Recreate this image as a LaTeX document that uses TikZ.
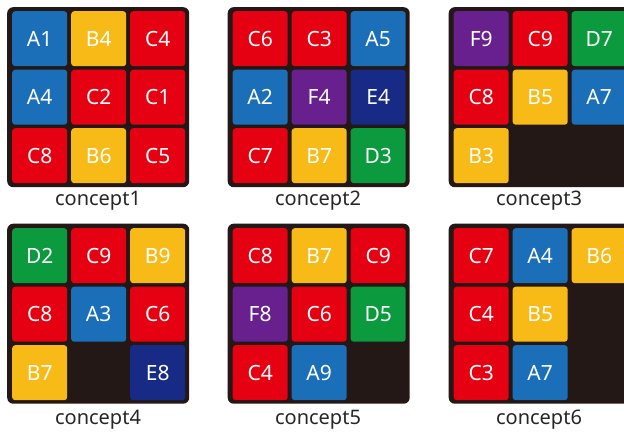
\documentclass[tikz,border=0pt]{standalone}
\usepackage{fontspec}
\setmainfont{Noto Sans}
\definecolor{cblue}{HTML}{1A6FB8}
\definecolor{cyel}{HTML}{F7BA16}
\definecolor{cred}{HTML}{E50012}
\definecolor{cgreen}{HTML}{0B9A3D}
\definecolor{cpurp}{HTML}{67208E}
\definecolor{cnavy}{HTML}{172A86}
\definecolor{pback}{HTML}{231815}
\newcommand\mkcell[7]{\node[cell, fill=#6] (#1) at ({#2+59*#4},{#3+58.5*#5}) {#7};}
\begin{document}
\begin{tikzpicture}[x=1pt,y=-1pt,
  cell/.style={anchor=north west, minimum size=55pt, inner sep=0pt, rounded corners=3pt, text=white, font=\fontsize{21}{21}\selectfont},
  panel/.style={fill=pback, draw=none, rounded corners=6pt, anchor=north west, minimum width=182pt, minimum height=180pt, inner sep=0pt},
  captxt/.style={font=\fontsize{20}{20}\selectfont, text=black!85, inner sep=0pt}]
\useasboundingbox (0,0) rectangle (624,438);
\clip (0,0) rectangle (624,438);
\fill[white] (0,0) rectangle (624,438);
% panels
\node[panel] (p1) at (7,7) {};
\node[panel] (p2) at (227.5,7) {};
\node[panel] (p3) at (448.5,7) {};
\node[panel] (p4) at (7,223.5) {};
\node[panel] (p5) at (227.5,223.5) {};
\node[panel] (p6) at (448.5,223.5) {};
% panel 1
\mkcell{a11}{12}{11}{0}{0}{cblue}{A1}
\mkcell{a12}{12}{11}{1}{0}{cyel}{B4}
\mkcell{a13}{12}{11}{2}{0}{cred}{C4}
\mkcell{a21}{12}{11}{0}{1}{cblue}{A4}
\mkcell{a22}{12}{11}{1}{1}{cred}{C2}
\mkcell{a23}{12}{11}{2}{1}{cred}{C1}
\mkcell{a31}{12}{11}{0}{2}{cred}{C8}
\mkcell{a32}{12}{11}{1}{2}{cyel}{B6}
\mkcell{a33}{12}{11}{2}{2}{cred}{C5}
% panel 2
\mkcell{b11}{232.5}{11}{0}{0}{cred}{C6}
\mkcell{b12}{232.5}{11}{1}{0}{cred}{C3}
\mkcell{b13}{232.5}{11}{2}{0}{cblue}{A5}
\mkcell{b21}{232.5}{11}{0}{1}{cblue}{A2}
\mkcell{b22}{232.5}{11}{1}{1}{cpurp}{F4}
\mkcell{b23}{232.5}{11}{2}{1}{cnavy}{E4}
\mkcell{b31}{232.5}{11}{0}{2}{cred}{C7}
\mkcell{b32}{232.5}{11}{1}{2}{cyel}{B7}
\mkcell{b33}{232.5}{11}{2}{2}{cgreen}{D3}
% panel 3
\mkcell{c11}{453.5}{11}{0}{0}{cpurp}{F9}
\mkcell{c12}{453.5}{11}{1}{0}{cred}{C9}
\mkcell{c13}{453.5}{11}{2}{0}{cgreen}{D7}
\mkcell{c21}{453.5}{11}{0}{1}{cred}{C8}
\mkcell{c22}{453.5}{11}{1}{1}{cyel}{B5}
\mkcell{c23}{453.5}{11}{2}{1}{cblue}{A7}
\mkcell{c31}{453.5}{11}{0}{2}{cyel}{B3}
% panel 4
\mkcell{d11}{12}{228}{0}{0}{cgreen}{D2}
\mkcell{d12}{12}{228}{1}{0}{cred}{C9}
\mkcell{d13}{12}{228}{2}{0}{cyel}{B9}
\mkcell{d21}{12}{228}{0}{1}{cred}{C8}
\mkcell{d22}{12}{228}{1}{1}{cblue}{A3}
\mkcell{d23}{12}{228}{2}{1}{cred}{C6}
\mkcell{d31}{12}{228}{0}{2}{cyel}{B7}
\mkcell{d33}{12}{228}{2}{2}{cnavy}{E8}
% panel 5
\mkcell{e11}{232.5}{228}{0}{0}{cred}{C8}
\mkcell{e12}{232.5}{228}{1}{0}{cyel}{B7}
\mkcell{e13}{232.5}{228}{2}{0}{cred}{C9}
\mkcell{e21}{232.5}{228}{0}{1}{cpurp}{F8}
\mkcell{e22}{232.5}{228}{1}{1}{cred}{C6}
\mkcell{e23}{232.5}{228}{2}{1}{cgreen}{D5}
\mkcell{e31}{232.5}{228}{0}{2}{cred}{C4}
\mkcell{e32}{232.5}{228}{1}{2}{cblue}{A9}
% panel 6
\mkcell{f11}{453.5}{228}{0}{0}{cred}{C7}
\mkcell{f12}{453.5}{228}{1}{0}{cblue}{A4}
\mkcell{f13}{453.5}{228}{2}{0}{cyel}{B6}
\mkcell{f21}{453.5}{228}{0}{1}{cred}{C4}
\mkcell{f22}{453.5}{228}{1}{1}{cyel}{B5}
\mkcell{f31}{453.5}{228}{0}{2}{cred}{C3}
\mkcell{f32}{453.5}{228}{1}{2}{cblue}{A7}
% captions
\node[captxt] (l1) at (98,201) {concept1};
\node[captxt] (l2) at (318,201) {concept2};
\node[captxt] (l3) at (539,201) {concept3};
\node[captxt] (l4) at (98,420) {concept4};
\node[captxt] (l5) at (318,420) {concept5};
\node[captxt] (l6) at (539,420) {concept6};
\end{tikzpicture}
\end{document}
